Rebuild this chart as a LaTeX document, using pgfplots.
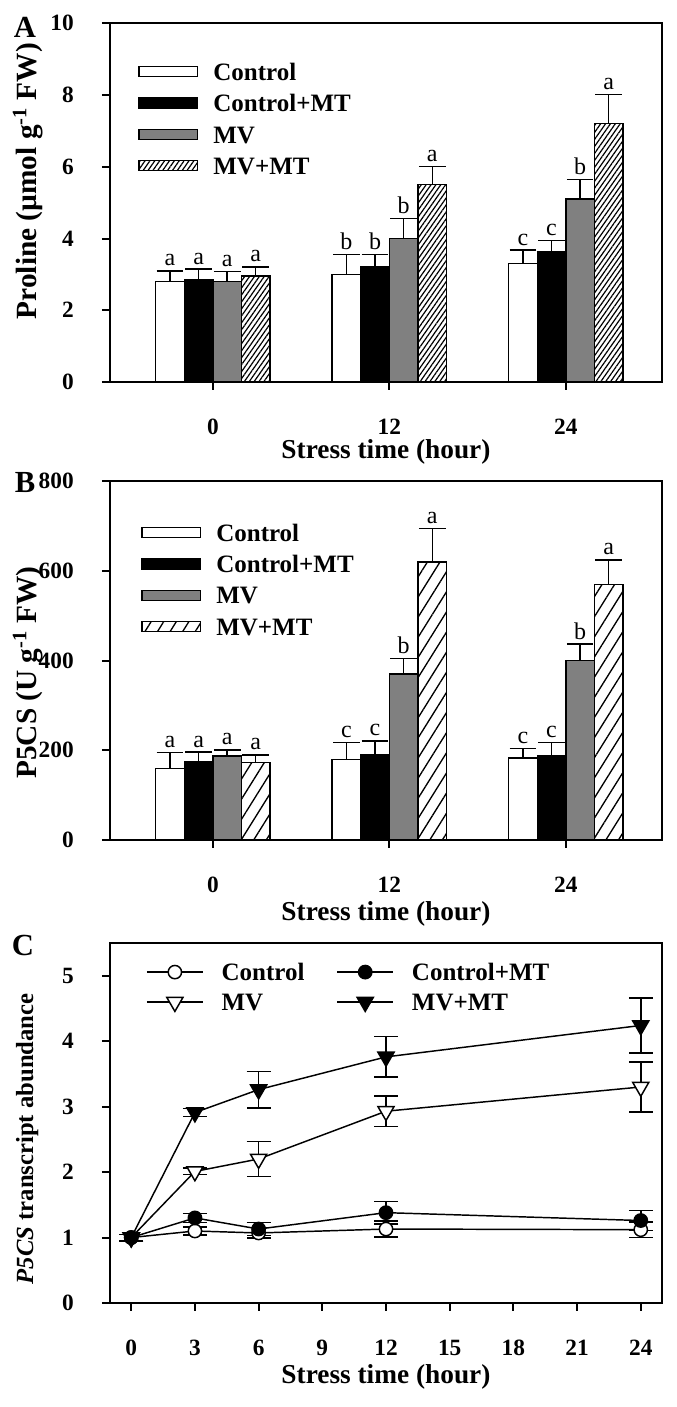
\documentclass[border=0pt]{standalone}
\usepackage{fontspec}
\setmainfont{Liberation Serif}
\usepackage{pgfplots}
\pgfplotsset{compat=1.18}
\usepackage{pgfplotstable}
\usetikzlibrary{patterns.meta}

\newcommand\tickf{\fontsize{17.5}{21}\selectfont\bfseries}
\newcommand\legf{\fontsize{18.75}{22}\selectfont\bfseries}
\newcommand\labf{\fontsize{20.5}{24}\selectfont\bfseries}
\newcommand\ylabf{\fontsize{22}{26}\selectfont\bfseries}
\newcommand\ylabCf{\fontsize{18.5}{22}\selectfont\bfseries}
\newcommand\letf{\fontsize{18}{20}\selectfont}
\newcommand\panf{\fontsize{23}{26}\selectfont\bfseries}

% Panel A: Proline
\pgfplotstableread{
x y e l
0 2.80 0.30 a
1 3.00 0.55 b
2 3.30 0.38 c
}\Actl
\pgfplotstableread{
x y e l
0 2.85 0.30 a
1 3.22 0.33 b
2 3.62 0.33 c
}\Actlmt
\pgfplotstableread{
x y e l
0 2.80 0.28 a
1 4.00 0.56 b
2 5.10 0.55 b
}\Amv
\pgfplotstableread{
x y e l
0 2.95 0.26 a
1 5.50 0.51 a
2 7.20 0.82 a
}\Amvmt
% Panel B: P5CS activity
\pgfplotstableread{
x y e l
0 160 35 a
1 180 37 c
2 183 21 c
}\Bctl
\pgfplotstableread{
x y e l
0 175 21 a
1 190 31 c
2 187 30 c
}\Bctlmt
\pgfplotstableread{
x y e l
0 187 14 a
1 370 35 b
2 400 37 b
}\Bmv
\pgfplotstableread{
x y e l
0 173 17 a
1 620 75 a
2 570 55 a
}\Bmvmt
% Panel C: transcript
\pgfplotstableread{
x y e
0 1.00 0.05
3 1.10 0.06
6 1.07 0.08
12 1.13 0.12
24 1.12 0.12
}\Cctl
\pgfplotstableread{
x y e
0 1.00 0.05
3 1.30 0.07
6 1.13 0.10
12 1.38 0.17
24 1.26 0.15
}\Cctlmt
\pgfplotstableread{
x y e
0 1.00 0.05
3 2.01 0.05
6 2.20 0.27
12 2.93 0.23
24 3.30 0.38
}\Cmv
\pgfplotstableread{
x y e
0 1.00 0.05
3 2.91 0.06
6 3.26 0.28
12 3.76 0.31
24 4.24 0.42
}\Cmvmt

\pgfplotsset{
 common/.style={
   scale only axis, width=414pt,
   tick align=outside, xtick pos=bottom, ytick pos=left,
   major tick length=6pt,
   axis line style={line width=1.5pt},
   every tick/.append style={line width=1.5pt, black},
   /pgf/number format/assume math mode=true,
   ticklabel style={font=\tickf, inner sep=0pt},
   xticklabel style={anchor=center, yshift=-27.75pt},
   yticklabel style={anchor=east, xshift=-21pt},
   xlabel={Stress time (hour)},
 },
 barax/.style={common, height=269pt,
   xmin=-0.583, xmax=2.545, xtick={0,1,2}, xticklabels={0,12,24},
   ybar=0pt, bar width=0.162, ymin=0,
   every axis plot/.append style={draw=black, line width=1.1pt},
   error bars/y dir=plus, error bars/y explicit,
   error bars/error bar style={line width=1.1pt, black, solid},
   error bars/error mark options={rotate=90, mark size=10pt, line width=1.1pt, black},
   point meta=explicit symbolic,
   nodes near coords,
   visualization depends on={\thisrow{e} \as \err},
   every node near coord/.append style={font=\letf, shift={(axis direction cs:0,\err)}, anchor=south, inner sep=3pt, black},
   legend image code/.code={\draw[##1] (0pt,-3.75pt) rectangle (44pt,3.75pt);},
   legend style={draw=none, fill=none, anchor=north west, inner sep=0pt, row sep=10.5pt, font=\legf,
     nodes={inner sep=0pt, text height=13pt, text depth=0pt},
     /tikz/every odd column/.append style={column sep=11.25pt}},
   legend cell align=left,
 },
}

\begin{document}
\begin{tikzpicture}
\path[use as bounding box] (0pt,0pt) rectangle (507pt,1055.25pt);

% ---------------- A ----------------
\begin{axis}[barax, at={(82.5pt,768.75pt)}, anchor=south west,
  ymax=10, ytick={0,2,...,10},
  xlabel style={font=\labf, at={(axis description cs:0.5,0)}, anchor=center, inner sep=0pt, yshift=-52.5pt},
  ylabel={Proline (\textmu mol g\textsuperscript{-1} FW)},
  ylabel style={font=\ylabf, at={(axis description cs:-0.1486,0.56)}, anchor=center, inner sep=0pt},
  legend style={at={(axis description cs:0.0507,0.890)}},
]
\addplot[fill=white] table[x=x,y=y,y error=e,meta=l]{\Actl};
\addplot[fill=black] table[x=x,y=y,y error=e,meta=l]{\Actlmt};
\addplot[fill={rgb,255:red,128;green,128;blue,128}] table[x=x,y=y,y error=e,meta=l]{\Amv};
\addplot[fill=white, postaction={pattern={Lines[angle=55,distance=3pt,line width=0.9pt]}}] table[x=x,y=y,y error=e,meta=l]{\Amvmt};
\legend{Control,Control+MT,MV,MV+MT}
\end{axis}

% ---------------- B ----------------
\begin{axis}[barax, at={(82.5pt,425.25pt)}, anchor=south west,
  ymax=800, ytick={0,200,...,800},
  xlabel style={font=\labf, at={(axis description cs:0.5,0)}, anchor=center, inner sep=0pt, yshift=-55.5pt},
  ylabel={P5CS (U g\textsuperscript{-1} FW)},
  ylabel style={font=\ylabf, at={(axis description cs:-0.1486,0.467)}, anchor=center, inner sep=0pt},
  legend style={at={(axis description cs:0.056,0.882)}},
]
\addplot[fill=white] table[x=x,y=y,y error=e,meta=l]{\Bctl};
\addplot[fill=black] table[x=x,y=y,y error=e,meta=l]{\Bctlmt};
\addplot[fill={rgb,255:red,128;green,128;blue,128}] table[x=x,y=y,y error=e,meta=l]{\Bmv};
\addplot[fill=white, postaction={pattern={Lines[angle=58,distance=8pt,line width=1pt]}}] table[x=x,y=y,y error=e,meta=l]{\Bmvmt};
\legend{Control,Control+MT,MV,MV+MT}
\end{axis}

% ---------------- C ----------------
\begin{axis}[common, at={(82.5pt,78pt)}, anchor=south west, height=270pt,
  xmin=-1, xmax=25, xtick={0,3,...,24},
  ymin=0, ymax=5.5, ytick={0,1,...,5},
  xlabel style={font=\labf, at={(axis description cs:0.5,0)}, anchor=center, inner sep=0pt, yshift=-55.5pt},
  ylabel={\textit{P5CS} transcript abundance},
  ylabel style={font=\ylabCf, at={(axis description cs:-0.150,0.456)}, anchor=center, inner sep=0pt},
  legend columns=2,
  legend image code/.code={\draw[mark repeat=2, mark phase=2, #1] plot coordinates {(0pt,0pt) (21pt,0pt) (42pt,0pt)};},
  legend style={draw=none, fill=none, at={(axis description cs:0.065,0.944)}, anchor=north west, inner sep=0pt, row sep=9.5pt, font=\legf,
    nodes={inner sep=0pt, text height=13pt, text depth=0pt},
    /tikz/every odd column/.append style={column sep=13.5pt},
    /tikz/every even column/.append style={column sep=24pt}},
  legend cell align=left,
  error bars/y dir=both, error bars/y explicit,
  error bars/error bar style={line width=1.1pt, black, solid},
  error bars/error mark options={rotate=90, mark size=9pt, line width=1.1pt, black},
  every axis plot/.append style={black, line width=1.1pt},
]
\addplot[mark=*, mark options={fill=white, mark size=5pt, solid}] table[x=x,y=y,y error=e]{\Cctl};
\addplot[mark=*, mark options={fill=black, mark size=5pt, solid}] table[x=x,y=y,y error=e]{\Cctlmt};
\addplot[mark=triangle*, mark options={fill=white, mark size=7pt, rotate=180, solid}] table[x=x,y=y,y error=e]{\Cmv};
\addplot[mark=triangle*, mark options={fill=black, mark size=7pt, rotate=180, solid}] table[x=x,y=y,y error=e]{\Cmvmt};
\legend{Control,Control+MT,MV,MV+MT}
\end{axis}

\node[font=\panf] at (18.75pt,1035pt) {A};
\node[font=\panf] at (18.75pt,693pt) {B};
\node[font=\panf] at (17.25pt,345.75pt) {C};
\end{tikzpicture}
\end{document}
